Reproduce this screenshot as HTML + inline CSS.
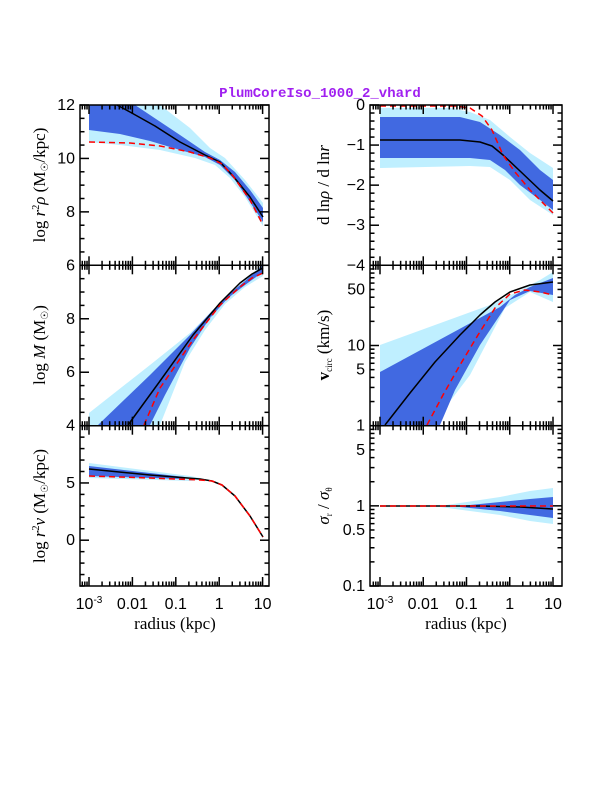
<!DOCTYPE html>
<html><head><meta charset="utf-8"><style>
html,body{margin:0;padding:0;background:#fff;}
svg{display:block;}
.t{font-family:"Liberation Sans",sans-serif;font-size:16px;fill:#000;}
.lab{font-family:"Liberation Serif",serif;font-size:17px;fill:#000;}
</style></head><body>
<svg id="s" width="612" height="792" viewBox="0 0 612 792" xmlns="http://www.w3.org/2000/svg">
<text x="320" y="97" text-anchor="middle" style="font-family:'Liberation Mono',monospace;font-size:14px;font-weight:bold;fill:#a020f0">PlumCoreIso_1000_2_vhard</text>
<g id="data" stroke-linejoin="round">
<!-- top-left -->
<polygon fill="#bfefff" points="89,105 160,105 190,128 210,148 225,158 245,180 263,203 263,226 245,197 230,178 215,165 195,158 160,150 120,145 89,142"/>
<polygon fill="#4169e1" points="89,105 135,105 180,135 205,152 220,160 235,172 250,190 263,208 263,222 250,202 235,180 220,165 205,157 180,150 150,141 120,134 89,130"/>
<polyline fill="none" stroke="#000" stroke-width="1.5" points="117,105 130,112 155,126 180,142 205,155 220,162 233,176 250,197 263,217"/>
<polyline fill="none" stroke="#f00" stroke-width="1.5" stroke-dasharray="6,4" points="89,142 130,143 160,146 190,152 210,158 222,164 233,176 250,200 263,225"/>
<!-- mid-left -->
<polygon fill="#bfefff" points="89,413 150,365 190,333 210,313 225,298 245,280 263,264 263,276 245,287 225,304 205,330 185,362 160,425 89,425"/>
<polygon fill="#4169e1" points="98,425 150,375 190,335 212,311 228,295 245,281 263,265 263,272 245,285 228,298 210,318 190,348 165,395 150,425"/>
<polyline fill="none" stroke="#000" stroke-width="1.5" points="128,425 160,381 193,335 220,303 240,283 252,274 263,268"/>
<polyline fill="none" stroke="#f00" stroke-width="1.5" stroke-dasharray="6,4" points="144,425 160,388 193,340 220,305 240,287 252,278 263,273"/>
<!-- bottom-left -->
<polygon fill="#bfefff" points="89,463 190,476 205,479 190,481 89,478"/>
<polygon fill="#4169e1" points="89,466 185,477 185,479 89,476"/>
<polyline fill="none" stroke="#000" stroke-width="1.5" points="89,469 150,475 200,479 212,481 222,485 235,496 250,516 263,537"/>
<polyline fill="none" stroke="#f00" stroke-width="1.5" stroke-dasharray="6,4" points="89,476 150,478 200,480 212,481 222,485 235,496 250,516 263,537"/>
<!-- top-right -->
<polygon fill="#bfefff" points="380,108 450,108 470,112 490,120 510,137 530,153 553,168 553,215 530,200 510,180 490,167 470,166 380,168"/>
<polygon fill="#4169e1" points="380,117 460,117 480,122 500,135 520,150 540,170 553,180 553,210 540,200 520,185 505,170 490,160 470,158 380,158"/>
<polyline fill="none" stroke="#000" stroke-width="1.5" points="380,140 460,140 480,142 492,146 503,155 520,171 540,190 553,201"/>
<polyline fill="none" stroke="#f00" stroke-width="1.5" stroke-dasharray="6,4" points="380,106 455,106 470,108 482,116 492,130 503,155 515,172 530,190 545,205 553,213"/>
<!-- mid-right -->
<polygon fill="#bfefff" points="380,345 490,305 515,293 540,280 553,272 553,302 530,292 505,308 470,375 432,425 380,425"/>
<polygon fill="#4169e1" points="380,372 500,307 515,295 530,287 553,278 553,295 530,291 510,300 480,345 455,390 440,425 380,425"/>
<polyline fill="none" stroke="#000" stroke-width="1.5" points="385,425 410,393 435,362 460,335 480,315 495,302 510,292 530,285 553,282"/>
<polyline fill="none" stroke="#f00" stroke-width="1.5" stroke-dasharray="6,4" points="427,425 443,395 460,365 478,335 495,308 510,294 525,290 540,292 553,295"/>
<!-- bottom-right -->
<polygon fill="#bfefff" points="440,506 500,497 530,491 553,488 553,524 530,521 500,515 440,507"/>
<polygon fill="#4169e1" points="460,506 500,502 530,499 553,497 553,518 530,515 500,511 460,507"/>
<polyline fill="none" stroke="#000" stroke-width="1.5" points="380,506 480,506 520,507 553,509"/>
<polyline fill="none" stroke="#f00" stroke-width="1.5" stroke-dasharray="6,4" points="380,506 553,506"/>
</g>
<g id="ax" stroke="#000" stroke-width="1.5" fill="none"></g>
<g id="lb"></g>
<text class="lab" transform="translate(45,185) rotate(-90)" text-anchor="middle">log <tspan font-style="italic">r</tspan><tspan font-size="10" dy="-6">2</tspan><tspan font-style="italic" dy="6">ρ</tspan> (M<tspan font-size="10" dy="3">☉</tspan><tspan dy="-3">/kpc)</tspan></text>
<text class="lab" transform="translate(45,345) rotate(-90)" text-anchor="middle">log <tspan font-style="italic">M</tspan> (M<tspan font-size="10" dy="3">☉</tspan><tspan dy="-3">)</tspan></text>
<text class="lab" transform="translate(45,506) rotate(-90)" text-anchor="middle">log <tspan font-style="italic">r</tspan><tspan font-size="10" dy="-6">2</tspan><tspan font-style="italic" dy="6">ν</tspan> (M<tspan font-size="10" dy="3">☉</tspan><tspan dy="-3">/kpc)</tspan></text>
<text class="lab" transform="translate(329,185) rotate(-90)" text-anchor="middle">d ln<tspan font-style="italic">ρ</tspan> / d ln<tspan font-style="italic">r</tspan></text>
<text class="lab" transform="translate(329,345) rotate(-90)" text-anchor="middle"><tspan font-weight="bold">v</tspan><tspan font-size="9" dy="3">circ</tspan><tspan dy="-3"> (km/s)</tspan></text>
<text class="lab" transform="translate(329,506) rotate(-90)" text-anchor="middle"><tspan font-style="italic">σ</tspan><tspan font-size="9" dy="3">r</tspan><tspan dy="-3"> / </tspan><tspan font-style="italic">σ</tspan><tspan font-size="9" dy="3">θ</tspan></text>
<text class="lab" x="175" y="629" text-anchor="middle">radius (kpc)</text>
<text class="lab" x="466" y="629" text-anchor="middle">radius (kpc)</text>
</svg>
<script>
(function(){
var NS="http://www.w3.org/2000/svg",ax=document.getElementById('ax'),lb=document.getElementById('lb');
function ln(x1,y1,x2,y2){var e=document.createElementNS(NS,'line');e.setAttribute('x1',x1);e.setAttribute('y1',y1);e.setAttribute('x2',x2);e.setAttribute('y2',y2);ax.appendChild(e);}
function tx(x,y,s,a,sup){var e=document.createElementNS(NS,'text');e.setAttribute('class','t');e.setAttribute('x',x);e.setAttribute('y',y);e.setAttribute('text-anchor',a||'middle');e.textContent=s;if(sup){var t=document.createElementNS(NS,'tspan');t.setAttribute('font-size','10');t.setAttribute('dy','-6');t.textContent=sup;e.appendChild(t);}lb.appendChild(e);}
var cols=[{L:80,R:269,x0:89,d:43.4},{L:370,R:562,x0:380,d:43.25}];
var rows=[105,265.3,425.7,586];
cols.forEach(function(c){
 var r0=document.createElementNS(NS,'rect');r0.setAttribute('x',c.L);r0.setAttribute('y',105);r0.setAttribute('width',c.R-c.L);r0.setAttribute('height',481);ax.appendChild(r0);
 ln(c.L,265.3,c.R,265.3);ln(c.L,425.7,c.R,425.7);
 for(var dec=-4;dec<=1;dec++){for(var m=1;m<10;m++){var l=dec+Math.log10(m);var x=c.x0+(l+3)*c.d;if(x<c.L+0.5||x>c.R-0.5)continue;var len=m==1?9:4.5;
  for(var r=0;r<3;r++){ln(x,rows[r],x,rows[r]+len);ln(x,rows[r+1],x,rows[r+1]-len);}}}
 var xl=[["10","-3"],["0.01"],["0.1"],["1"],["10"]];
 xl.forEach(function(v,i){tx(c.x0+i*c.d,609,v[0],'middle',v[1]);});
});
function ylin(c,top,bot,vmax,vmin,maj,mn,labs){var s=(bot-top)/(vmax-vmin);
 for(var v=vmin;v<=vmax+1e-6;v+=mn){var y=bot-(v-vmin)*s;var isM=Math.abs(v/maj-Math.round(v/maj))<1e-6;var len=isM?9:4.5;ln(c.L,y,c.L+len,y);ln(c.R,y,c.R-len,y);}
 labs.forEach(function(v){tx(c.L-5,bot-(v-vmin)*s+5,(v<0?'\u2212'+(-v):''+v),'end');});}
function ylog(c,top,bot,lmax,lmin,labs){var s=(bot-top)/(lmax-lmin);
 for(var d=Math.floor(lmin);d<=lmax;d++){for(var m=1;m<10;m++){var l=d+Math.log10(m);if(l<lmin-1e-6||l>lmax+1e-6)continue;var y=bot-(l-lmin)*s;var len=m==1?9:4.5;ln(c.L,y,c.L+len,y);ln(c.R,y,c.R-len,y);}}
 labs.forEach(function(v){tx(c.L-5,bot-(Math.log10(v)-lmin)*s+5,''+v,'end');});}
var A=cols[0],B=cols[1];
ylin(A,105,265.3,12,6,2,0.5,[12,10,8,6]);
ylin(A,265.3,425.7,10,4,2,0.5,[8,6,4]);
ylin(A,425.7,586,10,-4,5,1,[5,0]);
ylin(B,105,265.3,0,-4,1,0.2,[0,-1,-2,-3,-4]);
ylog(B,265.3,425.7,2,0,[1,5,10,50]);
ylog(B,425.7,586,1,-1,[0.1,0.5,1,5]);
})();
</script>
</body></html>
